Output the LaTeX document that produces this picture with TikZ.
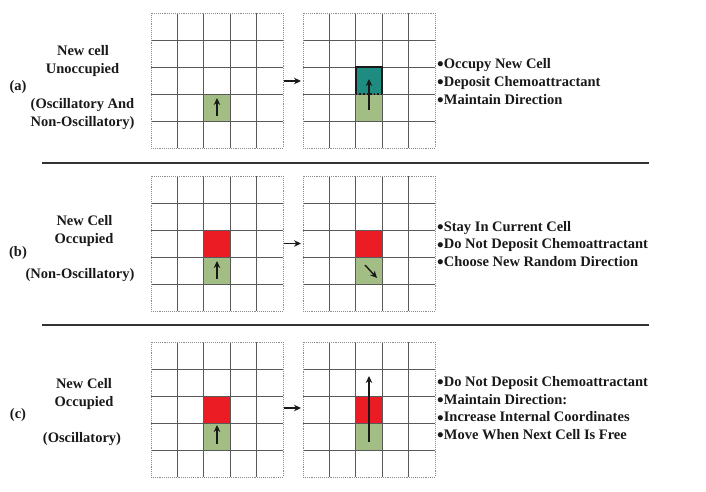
\documentclass[tikz,border=0pt]{standalone}
\usepackage{fontspec}
\setmainfont{Liberation Serif}
\usetikzlibrary{arrows.meta}
\definecolor{cgreen}{RGB}{163,190,132}
\definecolor{cred}{RGB}{236,28,36}
\definecolor{cteal}{RGB}{30,140,128}
\newcommand\bigbul{\smash{\raisebox{-2.6pt}{\fontsize{19}{18}\selectfont\textbullet}}}
\tikzset{
  gridline/.style={draw=black!65, line width=0.7pt},
  gridborder/.style={draw=black!45, line width=0.9pt, densely dotted},
  mv/.style={-{Stealth[length=7pt,width=6.5pt]}, line width=1.4pt, draw=black!90},
  lbl/.style={font=\bfseries\fontsize{14.5}{18}\selectfont, anchor=base, inner sep=0, text=black!90},
  bul/.style={font=\bfseries\fontsize{14.5}{18}\selectfont, anchor=base west, inner sep=0, text=black!90},
  sep/.style={line width=1.5pt, draw=black!80},
}
\newcommand\cagrid[2]{%
  \foreach \i in {1,...,4} {
    \draw[gridline] (#1+\i*26.4,#2) -- ++(0,135);
    \draw[gridline] (#1,#2+\i*27) -- ++(132,0);
  }
  \draw[gridborder] (#1,#2) rectangle ++(132,135);
}
\begin{document}
\begin{tikzpicture}[x=1pt,y=-1pt]
\useasboundingbox (0,0) rectangle (706,491);
% ---------------- panel (a) ----------------
\fill[cgreen] (203.8,94) rectangle ++(26.4,27);
\fill[cgreen] (355.8,94) rectangle ++(26.4,27);
\fill[cteal] (355.8,67) rectangle ++(26.4,27);
\cagrid{151}{13}
\cagrid{303}{13}
\draw[line width=1.6pt, draw=black!90] (355.8,94) -- (355.8,67) -- (382.2,67) -- (382.2,94);
\draw[line width=1.6pt, draw=black!90, dotted] (355.8,94) -- (382.2,94);
\coordinate (a1s) at (217,116); \coordinate (a1e) at (217,98);
\draw[mv] (a1s) -- (a1e);
\coordinate (a2s) at (369,110); \coordinate (a2e) at (369,79);
\draw[mv] (a2s) -- (a2e);
\coordinate (ag1) at (284,81); \coordinate (ag2) at (301,81);
\draw[mv] (ag1) -- (ag2);
\node[lbl] (a1) at (83,55) {New cell};
\node[lbl] (a2) at (82.5,73) {Unoccupied};
\node[lbl] (a3) at (18,90) {(a)};
\node[lbl] (a4) at (82.5,108) {(Oscillatory And};
\node[lbl] (a5) at (82.5,126) {Non-Oscillatory)};
\node[bul] (ab1) at (437,68) {\bigbul Occupy New Cell};
\node[bul] (ab2) at (437,86) {\bigbul Deposit Chemoattractant};
\node[bul] (ab3) at (437,104) {\bigbul Maintain Direction};
% separator
\coordinate (s1a) at (42,163); \coordinate (s1b) at (649,163);
\draw[sep] (s1a) -- (s1b);
% ---------------- panel (b) ----------------
\fill[cred] (203.8,230) rectangle ++(26.4,27);
\fill[cgreen] (203.8,257) rectangle ++(26.4,27);
\fill[cred] (355.8,230) rectangle ++(26.4,27);
\fill[cgreen] (355.8,257) rectangle ++(26.4,27);
\cagrid{151}{176}
\cagrid{303}{176}
\coordinate (b1s) at (217,279); \coordinate (b1e) at (217,261);
\draw[mv] (b1s) -- (b1e);
\coordinate (b2s) at (365,265); \coordinate (b2e) at (377,278);
\draw[mv] (b2s) -- (b2e);
\coordinate (bg1) at (284,243.5); \coordinate (bg2) at (301,243.5);
\draw[mv] (bg1) -- (bg2);
\node[lbl] (b1) at (84.5,225) {New Cell};
\node[lbl] (b2) at (84,243) {Occupied};
\node[lbl] (b3) at (18,256) {(b)};
\node[lbl] (b4) at (80,278) {(Non-Oscillatory)};
\node[bul] (bb1) at (437,231) {\bigbul Stay In Current Cell};
\node[bul] (bb2) at (437,248.5) {\bigbul Do Not Deposit Chemoattractant};
\node[bul] (bb3) at (437,266) {\bigbul Choose New Random Direction};
% separator
\coordinate (s2a) at (42,325); \coordinate (s2b) at (649,325);
\draw[sep] (s2a) -- (s2b);
% ---------------- panel (c) ----------------
\fill[cred] (203.8,396) rectangle ++(26.4,27);
\fill[cgreen] (203.8,423) rectangle ++(26.4,27);
\fill[cred] (355.8,396) rectangle ++(26.4,27);
\fill[cgreen] (355.8,423) rectangle ++(26.4,27);
\cagrid{151}{342}
\cagrid{303}{342}
\coordinate (c1s) at (217,444); \coordinate (c1e) at (217,425);
\draw[mv] (c1s) -- (c1e);
\coordinate (c2s) at (369,442); \coordinate (c2e) at (369,376);
\draw[mv] (c2s) -- (c2e);
\coordinate (cg1) at (284,408); \coordinate (cg2) at (301,408);
\draw[mv] (cg1) -- (cg2);
\node[lbl] (c1) at (84,388) {New Cell};
\node[lbl] (c2) at (84,406) {Occupied};
\node[lbl] (c3) at (18,418) {(c)};
\node[lbl] (c4) at (82,442) {(Oscillatory)};
\node[bul] (cb1) at (437,386) {\bigbul Do Not Deposit Chemoattractant};
\node[bul] (cb2) at (437,404) {\bigbul Maintain Direction:};
\node[bul] (cb3) at (437,421.5) {\bigbul Increase Internal Coordinates};
\node[bul] (cb4) at (437,439) {\bigbul Move When Next Cell Is Free};
\end{tikzpicture}
\end{document}
